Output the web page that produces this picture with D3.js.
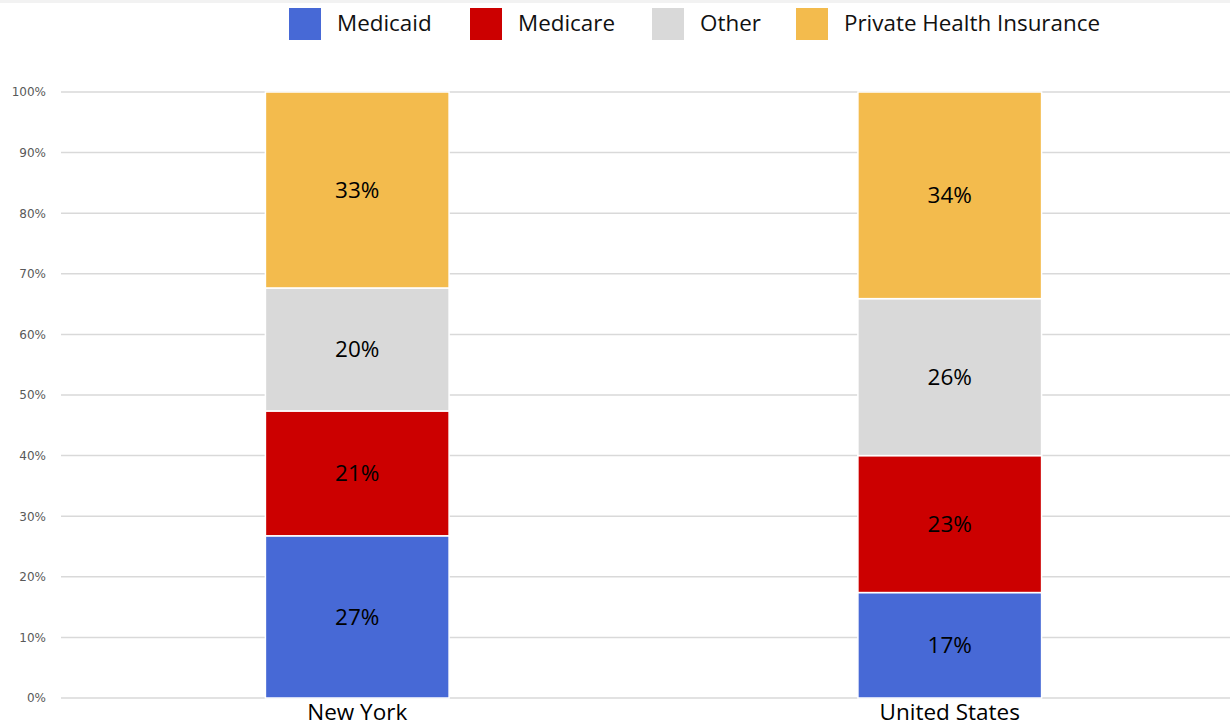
<!DOCTYPE html>
<html>
<head>
<meta charset="utf-8">
<script src="https://cdn.jsdelivr.net/npm/d3@7"></script>
<style>
  body { margin: 0; background: #fff; }
  svg { display: block; }
</style>
</head>
<body>
<svg id="chart"></svg>
<script>
var width = 1230,
    height = 726,
    margin = {left: 61, top: 92, right: -16, bottom: 28};

// data
var regions = ["New York", "United States"];
var payers = ["Medicaid", "Medicare", "Other", "Private Health Insurance"];
var colors = ["#4769d6", "#cc0000", "#d9d9d9", "#f3bb4d"];
var medicaid = [26.9, 17.4];
var medicare = [20.7, 22.6];
var other = [20.4, 25.9];
var privateIns = [32.5, 34.1];
var yTicks = [0, 10, 20, 30, 40, 50, 60, 70, 80, 90, 100];

var rows = regions.map(function(r, i) {
    return {region: r, "Medicaid": medicaid[i], "Medicare": medicare[i],
            "Other": other[i], "Private Health Insurance": privateIns[i]};
});

var svg = d3.select("#chart").attr("width", width).attr("height", height);

// thin grey strip at the top of the picture
svg.append("rect").attr("x", 0).attr("y", 0).attr("width", width).attr("height", 3)
    .attr("fill", "#f2f2f2");

var x = d3.scaleBand().domain(regions)
    .range([margin.left, width - margin.right]).padding(0);
var y = d3.scaleLinear().domain([0, 100]).range([height - margin.bottom, margin.top]);
var barW = x.bandwidth() * 0.31;

// gridlines
svg.append("g").selectAll("line").data(yTicks).join("line")
    .attr("x1", margin.left).attr("x2", width)
    .attr("y1", function(d) { return y(d); })
    .attr("y2", function(d) { return y(d); })
    .attr("stroke", "#d9d9d9").attr("stroke-width", 1.5);

// y axis labels
var yAxis = d3.axisLeft(y).tickValues(yTicks).tickSize(0).tickPadding(0)
    .tickFormat(function(d) { return d + "%"; });
svg.append("g").attr("transform", "translate(46,0)").call(yAxis)
    .call(function(g) { g.select(".domain").remove(); })
    .selectAll("text")
    .attr("font-family", "DejaVu Sans, Verdana, sans-serif")
    .attr("font-size", 12).attr("fill", "#595959");

// 100% stack
var stack = d3.stack().keys(payers).offset(d3.stackOffsetExpand);
var series = stack(rows);

var layer = svg.append("g").selectAll("g").data(series).join("g")
    .attr("fill", function(d, i) { return colors[i]; });

layer.selectAll("rect").data(function(d) { return d; }).join("rect")
    .attr("x", function(d) { return x(d.data.region) + (x.bandwidth() - barW) / 2; })
    .attr("width", barW)
    .attr("y", function(d) { return y(d[1] * 100); })
    .attr("height", function(d) { return y(d[0] * 100) - y(d[1] * 100); })
    .attr("stroke", "#fff").attr("stroke-width", 1.5);

// value labels
series.forEach(function(s) {
    svg.append("g").selectAll("text").data(s).join("text")
        .attr("x", function(d) { return x(d.data.region) + x.bandwidth() / 2; })
        .attr("y", function(d) { return y((d[0] + d[1]) * 50); })
        .attr("dy", "0.35em")
        .attr("text-anchor", "middle")
        .attr("font-family", "Open Sans, Noto Sans, sans-serif")
        .attr("font-size", 22.5).attr("fill", "#000")
        .text(function(d) { return Math.round(d.data[s.key]) + "%"; });
});

// category labels
svg.append("g").selectAll("text").data(regions).join("text")
    .attr("x", function(d) { return x(d) + x.bandwidth() / 2; })
    .attr("y", 720)
    .attr("text-anchor", "middle")
    .attr("font-family", "Open Sans, Noto Sans, sans-serif")
    .attr("font-size", 22.5).attr("fill", "#000")
    .text(function(d) { return d; });

// legend
var legendX = [289, 470, 652, 796];
var legend = svg.append("g").selectAll("g").data(payers).join("g")
    .attr("transform", function(d, i) { return "translate(" + legendX[i] + ",8)"; });
legend.append("rect").attr("width", 32).attr("height", 32)
    .attr("fill", function(d, i) { return colors[i]; });
legend.append("text").attr("x", 48).attr("y", 23)
    .attr("font-family", "Open Sans, Noto Sans, sans-serif")
    .attr("font-size", 22.4).attr("fill", "#111")
    .text(function(d) { return d; });
</script>
</body>
</html>
